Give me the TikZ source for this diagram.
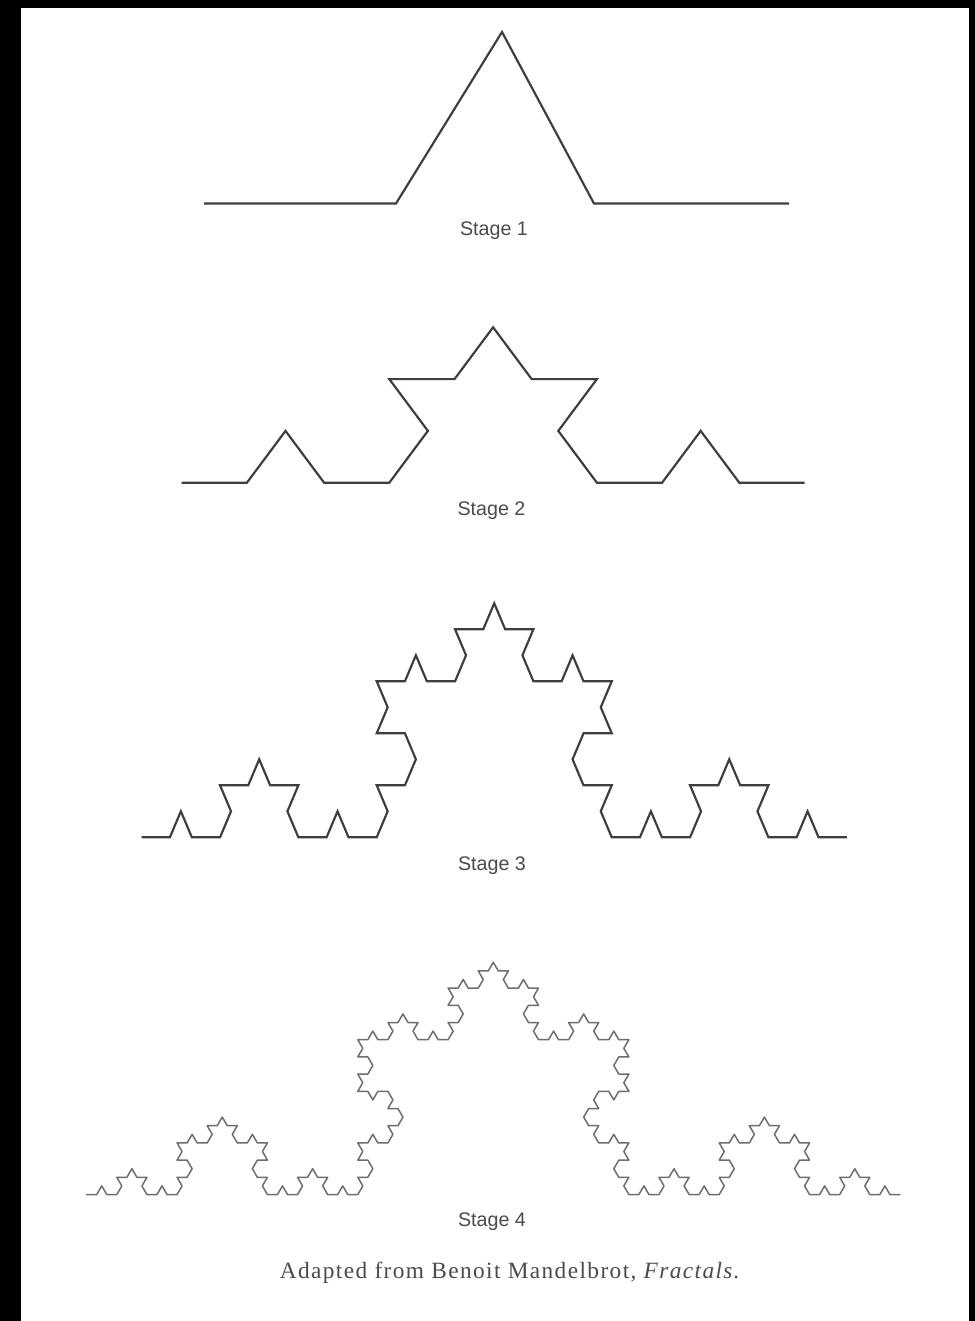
\documentclass[tikz,border=0pt]{standalone}
\usepackage{fontspec}
\newfontfamily\labelfont{Liberation Sans}
\newfontfamily\capfont[LetterSpace=6]{Liberation Serif}
\newcommand\kochcurve[7]{% #1 order, #2 h, #3 c, #4 s, #5 x0, #6 y0, #7 style
  \pgfmathtruncatemacro\kN{4^#1-1}%
  \gdef\kpath{}%
  \foreach \k in {0,...,\kN}{%
    \pgfmathtruncatemacro\da{mod(\k,4)}%
    \pgfmathtruncatemacro\db{mod(floor(\k/4),4)}%
    \pgfmathtruncatemacro\dc{mod(floor(\k/16),4)}%
    \pgfmathtruncatemacro\dd{mod(floor(\k/64),4)}%
    \pgfmathtruncatemacro\kdir{mod(12+(\da==1)-(\da==2)+(\db==1)-(\db==2)+(\dc==1)-(\dc==2)+(\dd==1)-(\dd==2),6)}%
    \pgfmathsetmacro\kdx{#2*((\kdir==0)-(\kdir==3))+#3*((\kdir==1)+(\kdir==5)-(\kdir==2)-(\kdir==4))}%
    \pgfmathsetmacro\kdy{-#4*((\kdir==1)+(\kdir==2)-(\kdir==4)-(\kdir==5))}%
    \xdef\kpath{\kpath -- ++(\kdx,\kdy)}%
  }%
  \draw[#7] (#5,#6) \kpath;%
}
\definecolor{lineink}{RGB}{62,62,62}
\definecolor{fineink}{RGB}{110,110,110}
\definecolor{textink}{RGB}{75,75,75}
\begin{document}
\begin{tikzpicture}[x=0.6pt,y=-0.6pt,
  kline/.style={draw=lineink,line width=1.3pt,line join=miter},
  kfine/.style={draw=fineink,line width=0.9pt,line join=round,line cap=round},
  klabel/.style={font=\labelfont\fontsize{11.8}{14}\selectfont,text=textink,anchor=base,inner sep=0pt},
  kcaption/.style={font=\capfont\fontsize{14}{16}\selectfont,text=textink,anchor=base,inner sep=0pt}]
\useasboundingbox (0,0) rectangle (975,1321);
\fill[black] (0,0) rectangle (975,1321);
\fill[white] (21,8) rectangle (969,1321);
% Stage 1
\draw[kline] (204,203.5) -- (396,203.5) -- (502,32) -- (594,203.5) -- (789,203.5);
\node[klabel] (s1) at (494,235) {Stage 1};
% Stage 2
\kochcurve{2}{65.2}{38.6}{51.8}{181.7}{482.7}{kline}
\node[klabel] (s2) at (491.5,515) {Stage 2};
% Stage 3
\kochcurve{3}{28.2}{10.97}{26}{141.7}{837.3}{kline}
\node[klabel] (s3) at (492,870) {Stage 3};
% Stage 4
\kochcurve{4}{10.04}{5.02}{8.6}{86.7}{1194.5}{kfine}
\node[klabel] (s4) at (492,1226) {Stage 4};
% Caption
\node[kcaption] (cap) at (510.5,1278.3) {Adapted from Benoit Mandelbrot, \textit{Fractals.}};
\end{tikzpicture}
\end{document}
